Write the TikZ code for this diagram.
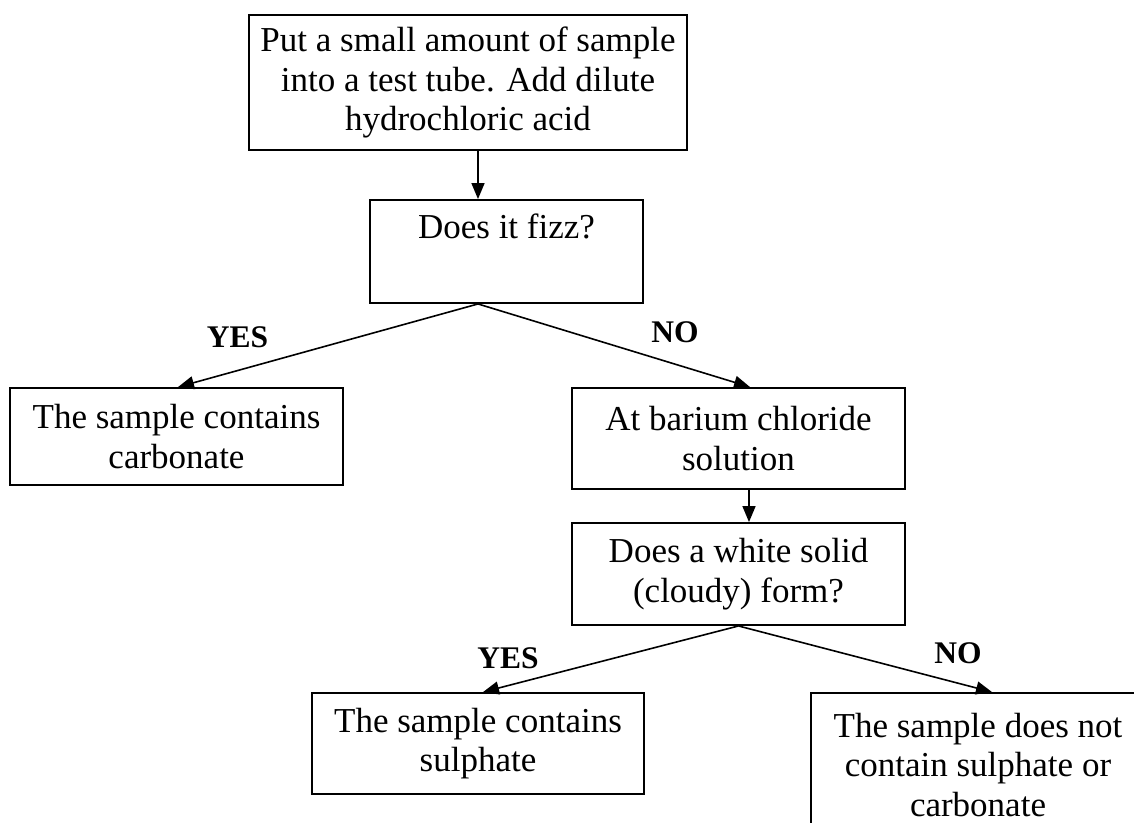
\documentclass[tikz,border=0pt]{standalone}
\usepackage{fontspec}
\setmainfont{Liberation Serif}
\usetikzlibrary{arrows.meta}
\begin{document}
\begin{tikzpicture}[x=1pt,y=-1pt,
  box/.style={draw, line width=1.9pt, inner sep=0pt, align=center, font=\fontsize{35}{39.5}\selectfont},
  arr/.style={line width=1.6pt, -{Triangle[length=16pt,width=13pt]}},
  lab/.style={font=\fontsize{31.5}{37}\selectfont\bfseries, inner sep=0pt}]
\useasboundingbox (0,0) rectangle (1134,822);
\clip (0,0) rectangle (1134,822);
\node[box, minimum width=438pt, minimum height=135pt] (b1) at (468,82.5) {Put a small amount of sample\\into a test tube. Add dilute\\hydrochloric acid};
\node[box, minimum width=273pt, minimum height=103pt] (b2) at (506.5,251.5) {Does it fizz?\\\strut};
\node[box, minimum width=333pt, minimum height=97pt] (b3) at (176.5,436.5) {The sample contains\\carbonate};
\node[box, minimum width=333pt, minimum height=101pt] (b4) at (738.5,438.5) {At barium chloride\\solution};
\node[box, minimum width=333pt, minimum height=102pt] (b5) at (738.5,574) {Does a white solid\\(cloudy) form?};
\node[box, minimum width=332pt, minimum height=101pt] (b6) at (478,743.5) {The sample contains\\sulphate};
\node[box, minimum width=334pt, minimum height=144pt] (b7) at (978,765) {The sample does not\\contain sulphate or\\carbonate};
\coordinate (c1) at (478,0);
\coordinate (c2) at (749,0);
\draw[arr] (b1.south -| c1) -- (b2.north -| c1);
\draw[arr] (b2.south -| c1) -- ([xshift=1.5pt]b3.north);
\draw[arr] (b2.south -| c1) -- ([xshift=11.5pt]b4.north);
\draw[arr] (b4.south -| c2) -- (b5.north -| c2);
\draw[arr] (b5.south) -- ([xshift=5pt]b6.north);
\draw[arr] (b5.south) -- ([xshift=14pt]b7.north);
\node[lab] (y1) at (237.5,337) {YES};
\node[lab] (n1) at (675,332) {NO};
\node[lab] (y2) at (508,658) {YES};
\node[lab] (n2) at (958,653) {NO};
\end{tikzpicture}
\end{document}
